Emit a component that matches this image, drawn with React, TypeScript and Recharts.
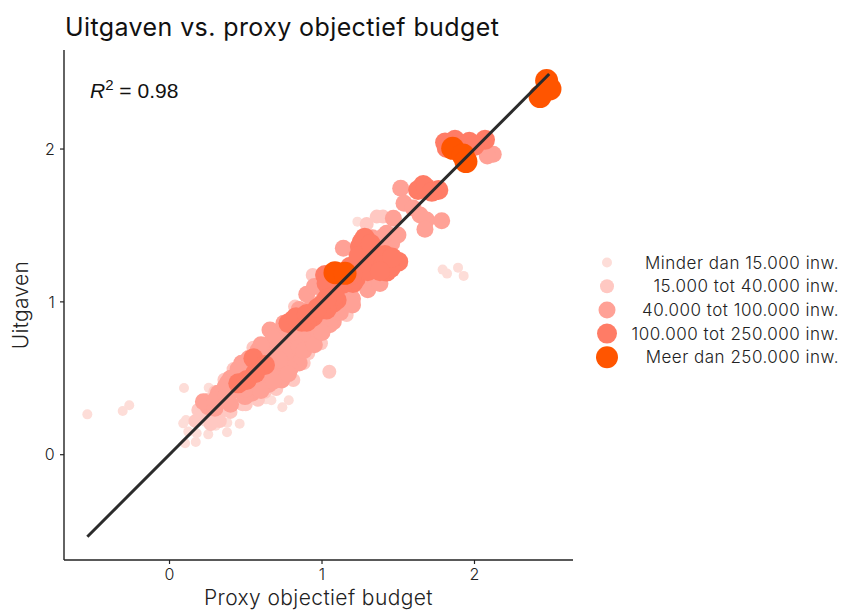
import React from "react";
import { ComposedChart, Scatter, XAxis, YAxis, Legend } from "recharts";

const FONT = "Inter, 'Noto Sans', sans-serif";

const classLabels = [
  "Minder dan 15.000 inw.",
  "15.000 tot 40.000 inw.",
  "40.000 tot 100.000 inw.",
  "100.000 tot 250.000 inw.",
  "Meer dan 250.000 inw.",
];
const classColors = ["#FDDDD8", "#FFC8C2", "#FFA196", "#FF7C66", "#FF5500"];
const classRadii = [5, 7, 8.5, 10, 11.5];
const legendRadii = [5, 7, 8.5, 10, 11];

const xTicks = [0, 1, 2];
const yTicks = [0, 1, 2];
const fitLine: [number, number][] = [[-0.539, -0.537], [2.49, 2.491]];

const tiny: [number, number][] = [
  [-0.539, 0.264], [-0.307, 0.286], [-0.264, 0.323], [0.095, 0.437], [0.257, 0.438], [0.108, 0.227],
  [0.09, 0.205], [0.254, 0.133], [0.377, 0.147], [0.172, 0.083], [0.102, 0.075], [0.178, 0.14],
  [0.123, 0.151], [0.46, 0.203], [0.379, 0.209], [0.303, 0.19], [0.233, 0.216], [0.782, 0.356],
  [0.74, 0.31], [0.668, 0.356], [0.633, 0.362], [0.816, 0.969], [1.791, 1.211], [1.82, 1.185],
  [1.892, 1.224], [1.929, 1.17], [1.232, 1.525],
];
const small: [number, number][] = [
  [1.048, 0.543], [0.993, 0.729], [0.91, 0.664], [0.867, 0.641], [0.812, 0.489], [0.626, 0.412],
  [0.32, 0.238], [0.375, 0.293], [0.189, 0.293], [0.939, 1.176], [1.293, 1.51], [1.359, 1.558],
  [1.4, 1.558], [1.162, 0.914], [0.823, 0.969], [0.7, 0.43], [0.48, 0.33], [0.26, 0.26],
  [0.25, 0.36], [0.3, 0.41], [0.36, 0.49], [0.42, 0.56], [0.5, 0.62], [0.55, 0.7], [0.33, 0.22],
  [0.4, 0.28], [0.5, 0.33], [0.58, 0.36], [0.63, 0.43], [0.72, 0.47], [0.88, 0.6], [0.21, 0.25],
  [0.17, 0.22], [0.27, 0.2],
];
const medium: [number, number][] = [
  [2.123, 1.966], [2.084, 1.955], [1.516, 1.743], [1.538, 1.645], [1.597, 1.614], [1.643, 1.569],
  [1.686, 1.536], [1.675, 1.475], [1.785, 1.531], [1.468, 1.547], [1.498, 1.438], [1.424, 1.449],
  [1.457, 1.383], [1.14, 1.351], [1.402, 1.427], [1.326, 1.132], [1.074, 0.87], [1.184, 1.078],
  [1.009, 1.078], [0.932, 0.969], [0.703, 0.794], [0.659, 0.816], [0.769, 0.751], [0.856, 0.751],
  [0.681, 0.729], [0.736, 0.489], [0.91, 0.729], [0.823, 0.685], [0.757, 0.62], [0.692, 0.685],
  [0.648, 0.576], [0.582, 0.685], [0.473, 0.598], [0.364, 0.445], [0.32, 0.402], [0.254, 0.314],
  [0.222, 0.347], [0.539, 0.402], [0.495, 0.38], [0.298, 0.304], [0.692, 0.533], [0.736, 0.6],
  [0.801, 0.772], [0.889, 0.796],
  [0.3, 0.36], [0.37, 0.38], [0.42, 0.42], [0.4, 0.5], [0.46, 0.52], [0.52, 0.55], [0.55, 0.47],
  [0.6, 0.5], [0.62, 0.64], [0.67, 0.62], [0.72, 0.7], [0.77, 0.68], [0.8, 0.8], [0.85, 0.7],
  [0.88, 0.85], [0.93, 0.84], [0.97, 0.9], [0.98, 0.8], [1.03, 0.9], [1.05, 0.97], [1.1, 1.05],
  [1.14, 1.0], [1.2, 1.02], [1.22, 1.12], [1.28, 1.18], [1.3, 1.38], [1.33, 1.42], [1.38, 1.4],
  [1.35, 1.33], [0.9, 1.05], [0.95, 1.1], [1.0, 1.0], [0.85, 0.6], [0.79, 0.56], [0.65, 0.46],
  [0.58, 0.44], [0.72, 0.62],
  [1.05, 0.85], [1.12, 0.93], [1.2, 0.98], [1.3, 1.08], [1.38, 1.12], [0.75, 0.86], [0.85, 0.95],
  [0.68, 0.76], [0.6, 0.72], [0.52, 0.63], [0.45, 0.56], [0.38, 0.47], [0.4, 0.33], [0.5, 0.43],
  [0.6, 0.42], [0.68, 0.48], [0.78, 0.53], [0.88, 0.68], [0.95, 0.72], [1.0, 0.8],
];
const large: [number, number][] = [
  [1.807, 2.042], [1.872, 2.06], [1.966, 2.048], [2.069, 2.06], [1.818, 2.007], [1.664, 1.765],
  [1.63, 1.732], [1.763, 1.732], [1.282, 1.372], [1.249, 1.361], [1.468, 1.253], [1.5, 1.263],
  [1.424, 1.198], [1.334, 1.255], [1.413, 1.307], [1.02, 1.176], [1.184, 1.23], [1.052, 1.078],
  [1.096, 1.012], [0.987, 0.947], [1.072, 0.993], [0.812, 0.882], [0.867, 0.87], [0.941, 0.903],
  [1.269, 1.209], [1.203, 1.124], [0.55, 0.631], [0.626, 0.587], [0.561, 0.533], [0.451, 0.467],
  [0.506, 0.489],
  [1.03, 1.12], [1.1, 1.1], [1.14, 1.12], [1.08, 1.04], [1.0, 0.98], [1.03, 0.95], [0.95, 0.93],
  [0.9, 0.87], [1.22, 1.15], [1.3, 1.2], [1.35, 1.3], [1.3, 1.34], [1.2, 1.18], [1.26, 1.39],
  [0.78, 0.86], [0.83, 0.9], [0.9, 0.92], [0.97, 0.96], [1.03, 1.02], [1.28, 1.42], [1.24, 1.3],
  [1.32, 1.38], [1.4, 1.24], [1.45, 1.22], [1.46, 1.29], [1.38, 1.2], [1.68, 1.75], [1.72, 1.72],
  [1.84, 2.03], [2.0, 2.02],
];
const huge: [number, number][] = [
  [2.473, 2.448], [2.495, 2.393], [2.43, 2.343], [1.857, 2.005], [1.925, 1.961], [1.944, 1.918],
  [1.085, 1.191], [1.151, 1.187],
];

const seriesPoints = [tiny, small, medium, large, huge];
const toRows = (pts: [number, number][]) => pts.map(([x, y]) => ({ x, y }));

const tickStyle = { fontFamily: FONT, fontSize: 16, fontWeight: 300, fill: "#222", letterSpacing: 0.3 };

const LegendBox = () => (
  <svg width={269} height={130} style={{ display: "block" }}>
    {classLabels.map((label, i) => {
      const cy = 22.5 + i * 23.7;
      return (
        <g key={label}>
          <circle cx={34} cy={cy} r={legendRadii[i]} fill={classColors[i]} />
          <text x={266} y={cy + 6} textAnchor="end" fontFamily={FONT} fontSize={17} fontWeight={300} fill="#222" letterSpacing={0.5}>
            {label}
          </text>
        </g>
      );
    })}
  </svg>
);

export default function App() {
  return (
    <div style={{ position: "absolute", left: 0, top: 0, width: 842, height: 610, background: "#fff" }}>
      <ComposedChart width={842} height={610} margin={{ top: 50, right: 0, bottom: 0, left: 0 }}>
        <XAxis
          type="number"
          dataKey="x"
          domain={[-0.692, 2.646]}
          ticks={xTicks}
          height={50}
          allowDataOverflow
          tick={tickStyle}
          tickSize={4}
          tickMargin={5}
          tickFormatter={(v: number) => String(v)}
          axisLine={{ stroke: "#222", strokeWidth: 1.4 }}
          tickLine={{ stroke: "#222", strokeWidth: 1.2 }}
          label={{ value: "Proxy objectief budget", position: "insideBottom", offset: 5, style: { fontFamily: FONT, fontSize: 21, fontWeight: 300, fill: "#222", letterSpacing: 0.4 } }}
        />
        <YAxis
          type="number"
          dataKey="y"
          domain={[-0.689, 2.648]}
          ticks={yTicks}
          width={64}
          allowDataOverflow
          tick={tickStyle}
          tickSize={4}
          tickMargin={5}
          tickFormatter={(v: number) => String(v)}
          axisLine={{ stroke: "#222", strokeWidth: 1.4 }}
          tickLine={{ stroke: "#222", strokeWidth: 1.2 }}
          label={{ value: "Uitgaven", angle: -90, position: "insideLeft", offset: 21, style: { fontFamily: FONT, fontSize: 21, fontWeight: 300, fill: "#222", textAnchor: "middle", letterSpacing: 0.3 } }}
        />
        <Legend layout="vertical" align="right" verticalAlign="middle" width={269} content={<LegendBox />} />
        {seriesPoints.map((pts, i) => (
          <Scatter
            key={classLabels[i]}
            name={classLabels[i]}
            data={toRows(pts)}
            isAnimationActive={false}
            shape={(p: any) => (
              <circle cx={p.cx} cy={p.cy} r={classRadii[i]} fill={classColors[i]} />
            )}
          />
        ))}
        <Scatter
          name="fit"
          data={toRows(fitLine)}
          isAnimationActive={false}
          line={{ stroke: "#2b2b2b", strokeWidth: 3 }}
          shape={() => <g />}
        />
      </ComposedChart>
      <div style={{ position: "absolute", left: 65, top: 12, fontFamily: FONT, fontSize: 25, fontWeight: 400, color: "#111", whiteSpace: "nowrap", letterSpacing: 0.4 }}>
        Uitgaven vs. proxy objectief budget
      </div>
      <div style={{ position: "absolute", left: 90, top: 79, fontFamily: "'Liberation Sans', Arial, sans-serif", fontSize: 21, color: "#111", whiteSpace: "nowrap" }}>
        <i>R</i><sup style={{ fontSize: 15, lineHeight: 0 }}>2</sup> = 0.98
      </div>
    </div>
  );
}
